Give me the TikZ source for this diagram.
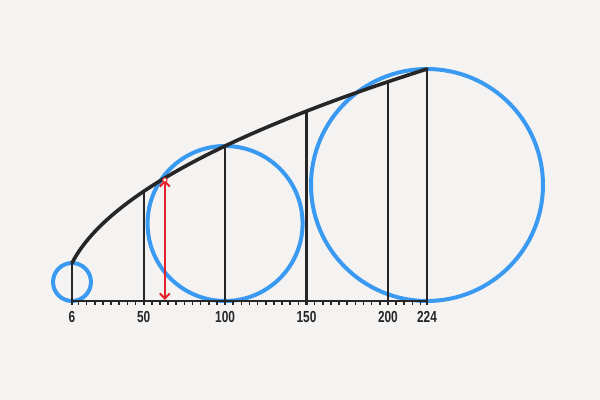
\documentclass[tikz,border=0pt]{standalone}
\usepackage{fontspec}
\setmainfont{Liberation Sans}
\usepackage{graphicx}
\usetikzlibrary{arrows.meta}
\definecolor{bg}{RGB}{245,243,241}
\definecolor{cblue}{RGB}{58,154,242}
\definecolor{cdark}{RGB}{38,38,38}
\definecolor{cred}{RGB}{226,34,40}
\newcommand\ticklbl[1]{\scalebox{0.74}[1]{#1}}
\tikzset{
  bluecirc/.style={draw=cblue,line width=2pt},
  curveline/.style={draw=cdark,line width=1.8pt,line cap=round},
  vline/.style={draw=cdark,line width=1.1pt},
  axisline/.style={draw=cdark,line width=1.1pt},
  tickline/.style={draw=cdark,line width=0.75pt},
  lbl/.style={font=\bfseries\fontsize{8}{9}\selectfont,text=cdark,inner sep=0pt},
  redarrow/.style={draw=cred,line width=1pt,{Straight Barb[length=2.6pt,width=5pt,line width=1pt]}-{Straight Barb[length=2.6pt,width=5pt,line width=1pt]}},
}
\begin{document}
\begin{tikzpicture}[x=0.5pt,y=-0.5pt,
  declare function={xu(\t)=72+(\t-6)*1.62844; hu(\t)=15.5*sqrt(\t);}]
\useasboundingbox (0,0) rectangle (600,400);
\fill[bg] (0,0) rectangle (600,400);
% circles
\foreach \v in {6,100,224}{
  \pgfmathsetmacro{\cx}{xu(\v)}
  \pgfmathsetmacro{\rr}{hu(\v)/2}
  \pgfmathsetmacro{\cy}{301-\rr}
  \draw[bluecirc] (\cx,\cy) circle[radius=\rr];
}
% ticks
\foreach \v in {10,15,...,220}{
  \pgfmathsetmacro{\tx}{xu(\v)}
  \draw[tickline] (\tx,301) -- (\tx,305.5);
}
% axis
\pgfmathsetmacro{\xa}{xu(6)}
\pgfmathsetmacro{\xb}{xu(224)}
\coordinate (base0) at (\xa,301);
\coordinate (base1) at (\xb,301);
\draw[axisline] (base0) -- (base1);
% vertical lines and labels
\foreach \v in {6,50,100,150,200,224}{
  \pgfmathsetmacro{\vx}{xu(\v)}
  \pgfmathsetmacro{\vy}{301-hu(\v)}
  \coordinate (top\v) at (\vx,\vy);
  \coordinate (foot\v) at (\vx,305.5);
  \draw[vline] (top\v) -- (foot\v);
  \node[lbl] (lab\v) at (\vx,316.5) {\ticklbl{\v}};
}
% curve
\draw[curveline] plot[domain=6:224,samples=120,variable=\t] ({xu(\t)},{301-hu(\t)});
% red arrow
\pgfmathsetmacro{\rx}{xu(63)}
\pgfmathsetmacro{\ry}{301-hu(63)+2}
\coordinate (rt) at (\rx,\ry);
\coordinate (rb) at (\rx,300);
\draw[redarrow] (rt) -- (rb);
\fill[white,draw=cred,line width=0.5pt] (rt) circle[radius=2.2];
\end{tikzpicture}
\end{document}
